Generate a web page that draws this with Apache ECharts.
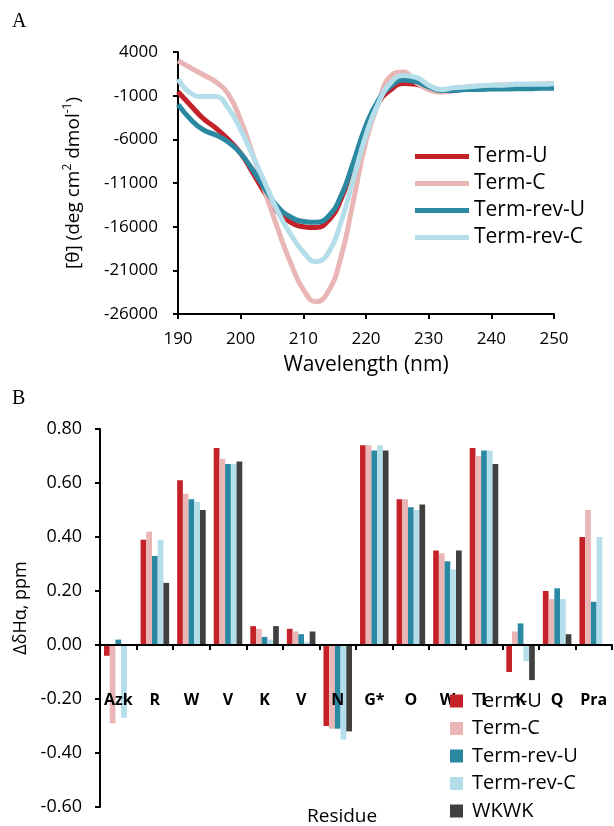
<!DOCTYPE html>
<html>
<head>
<meta charset="utf-8">
<script src="https://cdn.jsdelivr.net/npm/echarts@6/dist/echarts.min.js"></script>
<style>
  html, body { margin: 0; padding: 0; background: #fff; }
  #chart { width: 614px; height: 826px; }
</style>
</head>
<body>
<div id="chart"></div>
<script>
// ---- panel A : CD spectra ----
var wavelength = [190,192,194,196,198,200,202,204,206,208,210,212,214,216,218,220,222,224,226,228,230,232,234,236,238,240,242,244,246,248,250];
var termU    = [-550,-2100,-3600,-4700,-6000,-7600,-9900,-12300,-14400,-15500,-16000,-16100,-15300,-12900,-8800,-4700,-1800,-300,400,300,-200,-500,-400,-200,-100,0,100,150,200,250,300];
var termC    = [3000,2200,1400,600,-800,-3800,-7900,-12200,-16400,-20200,-23200,-24600,-23400,-19500,-13000,-6200,-1800,1300,1700,500,-300,-600,-300,0,100,200,250,300,300,350,400];
var termRevU = [-2000,-3700,-4900,-5500,-6300,-7600,-9600,-11800,-13800,-14900,-15400,-15500,-14800,-12500,-8600,-4400,-1500,100,800,600,0,-400,-400,-300,-300,-250,-250,-200,-200,-150,-150];
var termRevC = [900,-700,-1100,-1100,-2400,-4900,-8000,-11200,-14400,-16900,-18900,-20000,-19000,-15500,-10500,-5500,-1800,500,1300,1100,200,-300,-100,0,100,200,200,300,300,300,400];
var yTicksA  = [-26000,-21000,-16000,-11000,-6000,-1000,4000];

// ---- panel B : chemical shift deviations ----
var residues = ['Azk','R','W','V','K','V','N','G*','O','W','I','K','Q','Pra'];
var barU    = [-0.04,0.39,0.61,0.73,0.07,0.06,-0.30,0.74,0.54,0.35,0.73,-0.10,0.20,0.40];
var barC    = [-0.29,0.42,0.56,0.69,0.06,0.05,-0.31,0.74,0.54,0.34,0.70,0.05,0.17,0.50];
var barRevU = [0.02,0.33,0.54,0.67,0.03,0.04,-0.31,0.72,0.51,0.31,0.72,0.08,0.21,0.16];
var barRevC = [-0.27,0.39,0.53,0.67,0.02,0.01,-0.35,0.74,0.50,0.28,0.72,-0.06,0.17,0.40];
var barWKWK = [null,0.23,0.50,0.68,0.07,0.05,-0.32,0.72,0.52,0.35,0.67,-0.13,0.04,null];
var yTicksB = [-0.6,-0.4,-0.2,0,0.2,0.4,0.6,0.8];

var names  = ['Term-U','Term-C','Term-rev-U','Term-rev-C','WKWK'];
var colors = ['#c42128','#e9b6b5','#2b88a1','#b3deea','#404040'];

var font = 'Open Sans';

function pairs(ys){
    return wavelength.map(function(w,i){ return [w, ys[i]]; });
}
function blackLine(extra){
    var o = { show: true, lineStyle: { color: '#000', width: 2 } };
    for (var k in extra) o[k] = extra[k];
    return o;
}

var lineSets = [termU, termC, termRevU, termRevC];
var barSets  = [barU, barC, barRevU, barRevC, barWKWK];

var series = [];
lineSets.forEach(function(d,i){
    series.push({
        name: names[i],
        type: 'line',
        xAxisIndex: 0, yAxisIndex: 0,
        data: pairs(d),
        smooth: true,
        symbol: 'none',
        lineStyle: { width: 5, color: colors[i] },
        itemStyle: { color: colors[i] }
    });
});
barSets.forEach(function(d,i){
    series.push({
        name: 'B ' + names[i],
        type: 'bar',
        xAxisIndex: 1, yAxisIndex: 1,
        data: d,
        barGap: '0%',
        barCategoryGap: '22%',
        itemStyle: { color: colors[i] }
    });
});

// grid B: 0.80 at top (429), -0.60 at bottom (807); labels sit just under the zero line
var gridB = { left: 100, top: 429, width: 512, height: 378 };
var zeroOffset = gridB.height * 0.6 / 1.4;

var myChart = echarts.init(document.getElementById('chart'));
option = {
    animation: false,
    backgroundColor: '#fff',
    textStyle: { fontFamily: font },
    grid: [
        { left: 178, top: 52, width: 376, height: 262, outerBoundsMode: 'none' },
        { left: gridB.left, top: gridB.top, width: gridB.width, height: gridB.height, outerBoundsMode: 'none' }
    ],
    xAxis: [
        {
            gridIndex: 0, type: 'value', min: 190, max: 250, interval: 10,
            axisLine: blackLine({ onZero: false }),
            axisTick: blackLine({ length: 5 }),
            splitLine: { show: false },
            axisLabel: { color: '#000', fontSize: 17, margin: 17, fontFamily: font },
            name: 'Wavelength (nm)', nameLocation: 'middle', nameGap: 41,
            nameTextStyle: { color: '#000', fontSize: 21, fontFamily: font }
        },
        {
            gridIndex: 1, type: 'category', data: residues, z: 3,
            axisLine: blackLine({ onZero: true }),
            axisTick: blackLine({ length: 5 }),
            axisLabel: { color: '#000', fontSize: 16, fontWeight: 'bold', margin: 47 - zeroOffset, interval: 0, fontFamily: font }
        }
    ],
    yAxis: [
        {
            gridIndex: 0, type: 'value', min: -26000, max: 4000,
            axisLine: blackLine({ onZero: false }),
            axisTick: blackLine({ length: 5, customValues: yTicksA }),
            splitLine: { show: false },
            axisLabel: { color: '#000', fontSize: 17, margin: 20, fontFamily: font, customValues: yTicksA,
                formatter: function(v){ return String(v); } },
            name: '[θ] (deg cm{sup|2} dmol{sup|-1})', nameLocation: 'middle', nameGap: 92,
            nameTextStyle: { color: '#000', fontSize: 19, fontFamily: font,
                rich: { sup: { fontSize: 12, fontFamily: font, color: '#000', padding: [0, 0, 12, 0] } } }
        },
        {
            gridIndex: 1, type: 'value', min: -0.6, max: 0.8,
            axisLine: blackLine({ onZero: false }),
            axisTick: blackLine({ length: 5, customValues: yTicksB }),
            splitLine: { show: false },
            axisLabel: { color: '#000', fontSize: 18, margin: 18, fontFamily: font, customValues: yTicksB,
                formatter: function(v){ return v.toFixed(2); } },
            name: 'ΔδHα, ppm', nameLocation: 'middle', nameGap: 64,
            nameTextStyle: { color: '#000', fontSize: 18, fontFamily: font, padding: [0, 0, 0, 20] }
        }
    ],
    legend: [
        {
            data: names.slice(0, 4),
            orient: 'vertical', left: 415, top: 146, padding: 0,
            icon: 'rect', itemWidth: 54, itemHeight: 5, itemGap: 6,
            textStyle: { color: '#000', fontSize: 21, lineHeight: 20, fontFamily: font }
        },
        {
            data: names.map(function(n){ return 'B ' + n; }),
            orient: 'vertical', left: 450, top: 691, height: 150, padding: 0,
            icon: 'rect', itemWidth: 13, itemHeight: 13, itemGap: 7.5,
            formatter: function(n){ return '{t|' + n.replace(/^B /, '') + '}'; },
            textStyle: { color: '#000', fontSize: 20, fontFamily: font,
                rich: { t: { fontSize: 20, lineHeight: 20, fontFamily: font, color: '#000', padding: [0, 0, 0, 4] } } }
        }
    ],
    graphic: [
        { type: 'text', left: 12, top: 12, style: { text: 'A', fontSize: 20, fontFamily: 'Liberation Serif', fill: '#000' } },
        { type: 'text', left: 12, top: 389, style: { text: 'B', fontSize: 20, fontFamily: 'Liberation Serif', fill: '#000' } },
        { type: 'text', left: 307, top: 807, style: { text: 'Residue', fontSize: 19, fontFamily: font, fill: '#000' } }
    ],
    series: series
};
myChart.setOption(option);
</script>
</body>
</html>
